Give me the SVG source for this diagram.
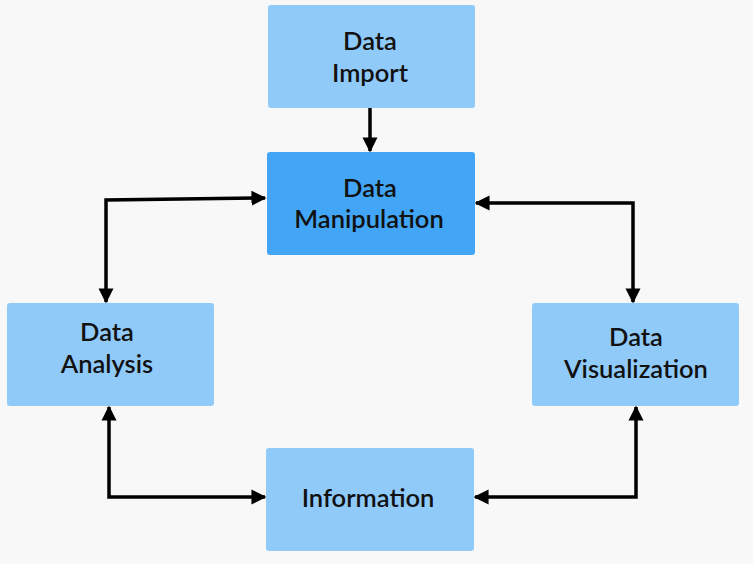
<svg xmlns="http://www.w3.org/2000/svg" width="753" height="564" viewBox="0 0 753 564">
<defs>
<style>
.box{fill:#90CAF9;}
.dark{fill:#42A5F5;}
text{font-family:"Lato","Liberation Sans",sans-serif;font-size:25.5px;fill:#111;text-anchor:middle;font-weight:600;}
.c{fill:none;stroke:#000;stroke-width:3.5;stroke-linejoin:miter;}
</style>
<marker id="ah" viewBox="0 0 10 10" refX="9" refY="5" markerWidth="4.3" markerHeight="4.3" orient="auto-start-reverse" markerUnits="strokeWidth">
<path d="M0,0 L10,5 L0,10 Z" fill="#000"/>
</marker>
</defs>
<rect width="753" height="564" fill="#F8F8F8"/>
<g id="connectors">
<path class="c" d="M370,108 V151" marker-end="url(#ah)"/>
<path class="c" d="M265,198 L106,200 V302" marker-start="url(#ah)" marker-end="url(#ah)"/>
<path class="c" d="M476,203 H633 V302" marker-start="url(#ah)" marker-end="url(#ah)"/>
<path class="c" d="M109,407 V497 H265" marker-start="url(#ah)" marker-end="url(#ah)"/>
<path class="c" d="M636,407 V497 H475" marker-start="url(#ah)" marker-end="url(#ah)"/>
</g>
<g id="import"><rect class="box" x="268" y="5" width="207" height="103" rx="3"/><text x="370" y="50">Data</text><text x="370" y="82">Import</text></g>
<g id="manipulation"><rect class="dark" x="267" y="152" width="208" height="103" rx="3"/><text x="370" y="197">Data</text><text x="369" y="228">Manipulation</text></g>
<g id="analysis"><rect class="box" x="7" y="303" width="207" height="103" rx="3"/><text x="107" y="341">Data</text><text x="107" y="373">Analysis</text></g>
<g id="visualization"><rect class="box" x="532" y="303" width="207" height="103" rx="3"/><text x="636" y="346">Data</text><text x="636" y="378">Visualization</text></g>
<g id="information"><rect class="box" x="266" y="448" width="208" height="103" rx="3"/><text x="368" y="507">Information</text></g>
</svg>
